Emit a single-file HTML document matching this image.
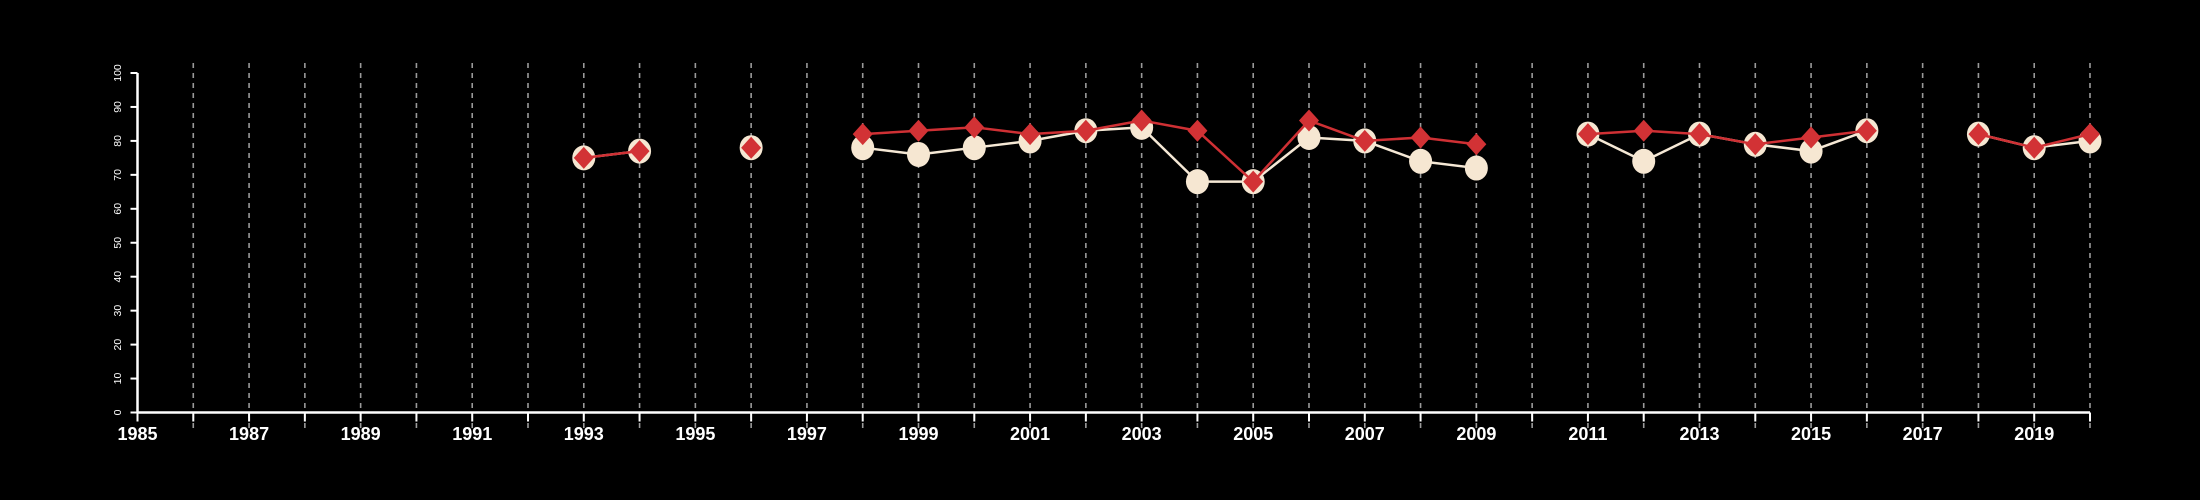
<!DOCTYPE html>
<html><head><meta charset="utf-8">
<style>
html,body{margin:0;padding:0;background:#000;}
svg{display:block;}
text{font-family:"Liberation Sans",sans-serif;fill:#fff;}
</style></head>
<body>
<svg id="chart" width="2200" height="500" viewBox="0 0 2200 500" xmlns="http://www.w3.org/2000/svg">
<rect width="2200" height="500" fill="#000"/>
<g id="grid"></g><g id="axes"></g><g id="series"></g>
</svg>
<script>
const years = [1993,1994,1996,1998,1999,2000,2001,2002,2003,2004,2005,2006,2007,2008,2009,2011,2012,2013,2014,2015,2016,2018,2019,2020];
const whiteValues = [75,77,78,78,76,78,80,83,84,68,68,81,80,74,72,82,74,82,79,77,83,82,78,80];
const redValues = [75,77,78,82,83,84,82,83,86,83,68,86,80,81,79,82,83,82,79,81,83,82,78,82];
const yTicks = [0,10,20,30,40,50,60,70,80,90,100];
const xTickLabels = [1985,1987,1989,1991,1993,1995,1997,1999,2001,2003,2005,2007,2009,2011,2013,2015,2017,2019];

const NS = "http://www.w3.org/2000/svg";
const X0 = 137.5, X1 = 2090, Y0 = 412.5, Y1 = 73;
const xMin = 1985, xMax = 2020;
function xs(v){ return X0 + (v - xMin) / (xMax - xMin) * (X1 - X0); }
function ys(v){ return Y0 - v / 100 * (Y0 - Y1); }
function mk(tag, attrs, parent){ const e = document.createElementNS(NS, tag); for (const k in attrs) e.setAttribute(k, attrs[k]); parent.appendChild(e); return e; }

const grid = document.getElementById('grid');
const axes = document.getElementById('axes');
const series = document.getElementById('series');

for (let yr = xMin + 1; yr <= xMax; yr++) {
  const l = mk('line', {x1: xs(yr), x2: xs(yr), y1: 63, y2: 428, stroke: '#9a9a9a', 'stroke-width': 1.6, 'stroke-dasharray': '5,5'}, grid);
  
  
}

const ya = mk('line', {x1: X0, x2: X0, y1: Y1, y2: Y0, stroke: '#fff', 'stroke-width': 2.5}, axes);


yTicks.forEach(v => {
  const t = mk('line', {x1: X0 - 7, x2: X0, y1: ys(v), y2: ys(v), stroke: '#fff', 'stroke-width': 2}, axes);
  
  
  const tx = mk('text', {x: 0, y: 0, 'font-size': 10.5, 'text-anchor': 'middle', transform: 'translate(' + 121 + ',' + ys(v) + ') rotate(-90)'}, axes);
  
  
  tx.textContent = v;
});

const xa = mk('line', {x1: X0, x2: X1, y1: Y0, y2: Y0, stroke: '#fff', 'stroke-width': 2.5}, axes);


for (let yr = xMin; yr <= xMax; yr++) {
  const t = mk('line', {x1: xs(yr), x2: xs(yr), y1: Y0, y2: Y0 + 9, stroke: '#fff', 'stroke-width': 2}, axes);
  
  
}
xTickLabels.forEach(v => {
  const tx = mk('text', {x: xs(v), y: 440, 'font-size': 18, 'font-weight': 'bold', 'text-anchor': 'middle', style: 'font-family:"Liberation Sans Narrow","Liberation Sans",sans-serif;font-stretch:condensed'}, axes);
  
  
  tx.textContent = v;
});

function drawLines(vals, color, name){
  for (let i = 1; i < years.length; i++) {
    if (years[i] - years[i-1] !== 1) continue;
    const l = mk('line', {x1: xs(years[i-1]), y1: ys(vals[i-1]), x2: xs(years[i]), y2: ys(vals[i]), stroke: color, 'stroke-width': 2.5}, series);
    
    
  }
}
drawLines(whiteValues, '#f5e8d5', 'white-series');
years.forEach((yr, i) => {
  const c = mk('ellipse', {cx: xs(yr), cy: ys(whiteValues[i]), rx: 11.5, ry: 12.5, fill: '#f6e7d2'}, series);
  
  
});
drawLines(redValues, '#cf3034', 'red-series');
years.forEach((yr, i) => {
  const x = xs(yr), y = ys(redValues[i]);
  const d = mk('polygon', {points: (x) + ',' + (y - 11) + ' ' + (x + 10) + ',' + y + ' ' + x + ',' + (y + 11) + ' ' + (x - 10) + ',' + y, fill: '#d23235'}, series);
  
  
});
</script>
</body></html>
